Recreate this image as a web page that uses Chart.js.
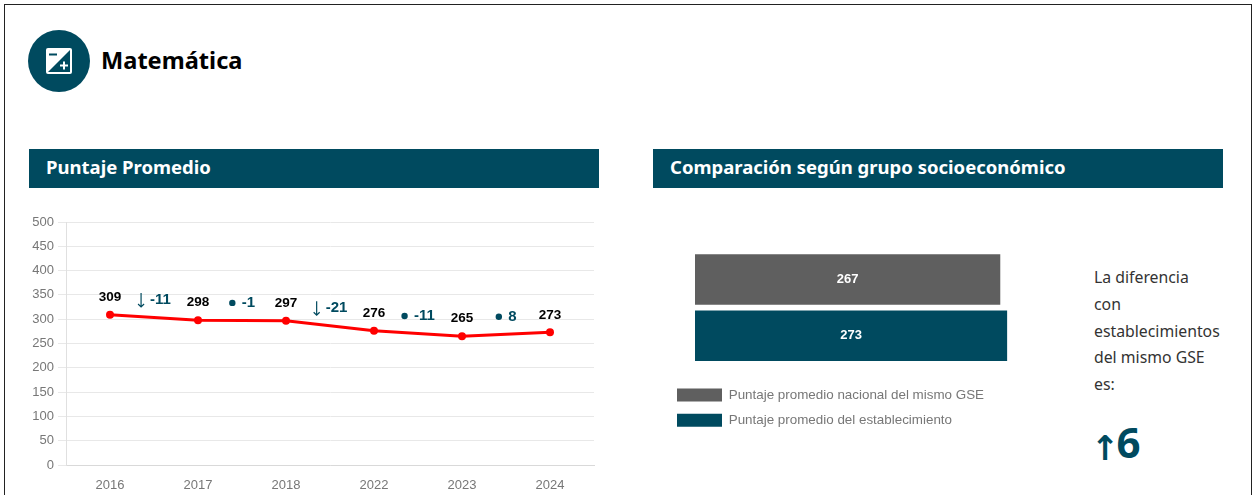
<!DOCTYPE html>
<html lang="es">
<head>
<meta charset="utf-8">
<title>Matemática</title>
<script src="https://cdn.jsdelivr.net/npm/chart.js@4"></script>
<style>
    html, body { margin: 0; padding: 0; background: #fff; overflow: hidden; }
    #page { position: relative; width: 1254px; height: 495px; overflow: hidden; font-family: "Noto Sans", sans-serif; }
    #frame { position: absolute; left: 4px; top: 4px; width: 1248px; height: 520px; border: 1px solid #222; box-sizing: border-box; }
    #icon { position: absolute; left: 28px; top: 30px; }
    h1 { position: absolute; left: 101px; top: 42px; margin: 0; font-size: 23.6px; line-height: 36px; font-weight: 700; color: #000; }
    .band { position: absolute; top: 149px; height: 39px; width: 570px; background: #004a5f; color: #fff; font-size: 18.5px; font-weight: 700; line-height: 36px; text-indent: 17px; }
    #diff { position: absolute; left: 1094px; top: 264px; font-size: 15.8px; line-height: 26.8px; color: #333; }
    #big { position: absolute; left: 1090px; top: 414px; font-size: 42px; line-height: 56px; font-weight: 700; color: #004a5f; white-space: nowrap; }
    #big span { font-family: "DejaVu Sans", sans-serif; font-size: 34px; line-height: 40px; margin-right: -2px; position: relative; left: 1px; top: 2px; }
    canvas { position: absolute; }
</style>
</head>
<body>
<div id="page">
    <div id="frame"></div>
    <svg id="icon" width="62" height="62" viewBox="0 0 62 62">
        <circle cx="31" cy="31" r="31" fill="#004a5f"/>
        <rect x="18" y="18" width="26" height="26" rx="2" fill="#fff"/>
        <path d="M42 20 V42 H20 Z" fill="#004a5f"/>
        <rect x="21" y="23.5" width="8" height="2" fill="#004a5f"/>
        <rect x="32" y="34.5" width="8" height="2" fill="#fff"/>
        <rect x="35" y="31.5" width="2" height="8" fill="#fff"/>
    </svg>
    <h1>Matemática</h1>
    <div class="band" style="left:29px">Puntaje Promedio</div>
    <div class="band" style="left:653px">Comparación según grupo socioeconómico</div>
    <canvas id="lineChart" width="572" height="285" style="left:28px;top:210px"></canvas>
    <canvas id="barChart" width="373" height="197" style="left:665px;top:240px"></canvas>
    <div id="diff">La diferencia<br>con<br>establecimientos<br>del mismo GSE<br>es:</div>
    <div id="big"><span>↑</span>6</div>
</div>
<script>
    const years = ['2016', '2017', '2018', '2022', '2023', '2024'];
    const scores = [309, 298, 297, 276, 265, 273];
    const deltas = [-11, -1, -21, -11, 8];
    const deltaMarks = ['down', 'same', 'down', 'same', 'same'];

    const groups = ['Nacional', 'Establecimiento'];
    const nationalValues = [267, null];
    const schoolValues = [null, 273];
    const seriesNames = ['Puntaje promedio nacional del mismo GSE', 'Puntaje promedio del establecimiento'];

    const teal = '#004a5f';
    const fontName = '"Liberation Sans", Arial, sans-serif';

    // numeros sobre cada punto + variacion entre años
    const lineLabels = {
        id: 'lineLabels',
        afterDatasetsDraw(chart) {
            const ctx = chart.ctx;
            const xs = chart.scales.x;
            const ys = chart.scales.y;
            ctx.save();
            ctx.textBaseline = 'middle';
            ctx.textAlign = 'center';
            ctx.fillStyle = '#000';
            ctx.font = 'bold 13.5px ' + fontName;
            scores.forEach((v, i) => ctx.fillText(v, xs.getPixelForValue(i), ys.getPixelForValue(v) - 17.5));

            deltas.forEach((d, i) => {
                const cx = xs.getPixelForValue(i + 0.5);
                const cy = ys.getPixelForValue((scores[i] + scores[i + 1]) / 2) - 17.5;
                const txt = String(d);
                ctx.font = 'bold 15px ' + fontName;
                const w = ctx.measureText(txt).width;
                const markW = 13;
                const left = cx - (w + markW) / 2;
                ctx.fillStyle = teal;
                ctx.strokeStyle = teal;
                if (deltaMarks[i] === 'down') {
                    ctx.lineWidth = 1.2;
                    ctx.beginPath();
                    ctx.moveTo(left + 4, cy - 7);
                    ctx.lineTo(left + 4, cy + 7);
                    ctx.moveTo(left + 1, cy + 4);
                    ctx.lineTo(left + 4, cy + 7);
                    ctx.lineTo(left + 7, cy + 4);
                    ctx.stroke();
                } else {
                    ctx.beginPath();
                    ctx.arc(left + 3.5, cy, 3.2, 0, Math.PI * 2);
                    ctx.fill();
                }
                ctx.textAlign = 'left';
                ctx.fillText(txt, left + markW, cy);
                ctx.textAlign = 'center';
            });
            ctx.restore();
        }
    };

    new Chart(document.getElementById('lineChart'), {
        type: 'line',
        data: {
            labels: years,
            datasets: [{
                data: scores,
                borderColor: '#ff0000',
                backgroundColor: '#ff0000',
                borderWidth: 3,
                pointRadius: 4,
                pointBorderWidth: 0,
                pointHoverRadius: 4,
                tension: 0
            }]
        },
        options: {
            responsive: false,
            animation: false,
            layout: { padding: { top: 12, right: 6 } },
            plugins: { legend: { display: false }, tooltip: { enabled: false } },
            scales: {
                x: {
                    offset: true,
                    grid: { display: false },
                    border: { color: '#d9d9d9' },
                    ticks: { color: '#777', font: { family: fontName, size: 13 }, padding: 5 },
                    afterFit(axis) { axis.height = 30; }
                },
                y: {
                    min: 0,
                    max: 500,
                    grid: { color: '#e8e8e8', tickColor: '#e8e8e8', tickLength: 8 },
                    border: { color: '#e0e0e0' },
                    ticks: { stepSize: 50, color: '#777', font: { family: fontName, size: 13 }, padding: 4 },
                    afterFit(axis) { axis.width = 38; }
                }
            }
        },
        plugins: [lineLabels]
    });

    const barLabels = {
        id: 'barLabels',
        afterDatasetsDraw(chart) {
            const ctx = chart.ctx;
            ctx.save();
            ctx.fillStyle = '#fff';
            ctx.font = 'bold 13px ' + fontName;
            ctx.textAlign = 'center';
            ctx.textBaseline = 'middle';
            [nationalValues, schoolValues].forEach(vals => {
                vals.forEach((v, i) => {
                    if (v === null) return;
                    ctx.fillText(v, chart.scales.x.getPixelForValue(v / 2), chart.scales.y.getPixelForValue(i));
                });
            });
            ctx.restore();
        }
    };

    new Chart(document.getElementById('barChart'), {
        type: 'bar',
        data: {
            labels: groups,
            datasets: [
                { label: seriesNames[0], data: nationalValues, backgroundColor: '#5f5f5f', grouped: false, barPercentage: 0.9, categoryPercentage: 1 },
                { label: seriesNames[1], data: schoolValues, backgroundColor: teal, grouped: false, barPercentage: 0.9, categoryPercentage: 1 }
            ]
        },
        options: {
            indexAxis: 'y',
            responsive: false,
            animation: false,
            layout: { padding: { top: 11.5 } },
            plugins: {
                tooltip: { enabled: false },
                legend: {
                    position: 'bottom',
                    align: 'start',
                    onClick: null,
                    labels: {
                        boxWidth: 45,
                        boxHeight: 13,
                        padding: 12,
                        color: '#777',
                        font: { family: fontName, size: 13.4 }
                    }
                }
            },
            scales: {
                x: {
                    min: 0,
                    max: 300,
                    grid: { display: false },
                    border: { display: false },
                    ticks: { display: false },
                    afterFit(axis) { axis.height = 12.5; }
                },
                y: {
                    grid: { display: false },
                    border: { display: false },
                    ticks: { display: false },
                    afterFit(axis) { axis.width = 30; }
                }
            }
        },
        plugins: [barLabels]
    });
</script>
</body>
</html>
